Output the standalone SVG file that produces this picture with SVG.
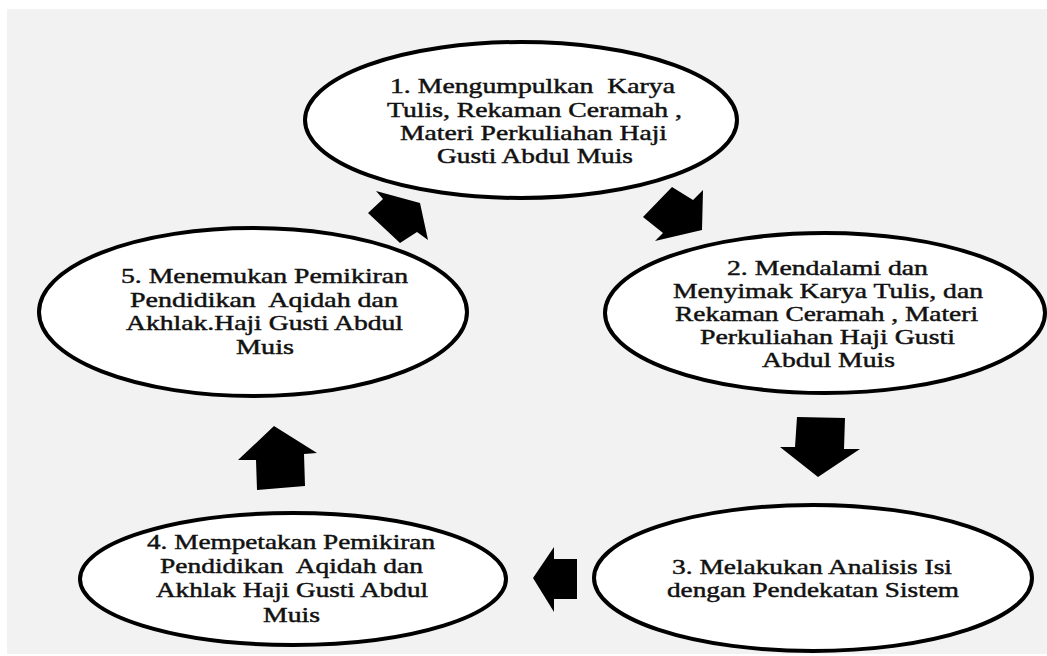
<svg xmlns="http://www.w3.org/2000/svg" width="1047" height="656" viewBox="0 0 1047 656">
<style>
.bg{fill:#f2f2f2}
.node ellipse{fill:#ffffff;stroke:#000000;stroke-width:4}
.node text{font-family:'Liberation Serif','DejaVu Serif',serif;font-size:21px;fill:#111111;stroke:#111111;stroke-width:0.45;white-space:pre}
.arrow{fill:#000000;stroke:none}
</style>
<rect class="bg" x="7" y="9" width="1040" height="645"/>
<g id="connectors">
<polygon class="arrow" points="376,191 420,203 428,240 417,232 400,243 368,213 383,199"/>
<polygon class="arrow" points="672,187 693,200 703,190 702,230 655,241 663,233 643,217"/>
<polygon class="arrow" points="797,417 845,418 844,449 860,449 818,477 780,447 795,447"/>
<polygon class="arrow" points="577,559 577,599 554,599 554,612 533,578 554,547 554,559"/>
<polygon class="arrow" points="274,426 317,453 304,454 305,486 257,490 256,460 238,460"/>
</g>
<g id="node1" class="node" font-family="Liberation Serif, DejaVu Serif, serif">
<ellipse cx="521" cy="120" rx="216" ry="78"/>
<text x="390" y="93" textLength="285" lengthAdjust="spacingAndGlyphs">1. Mengumpulkan  Karya</text>
<text x="387" y="117" textLength="295" lengthAdjust="spacingAndGlyphs">Tulis, Rekaman Ceramah ,</text>
<text x="400" y="139.5" textLength="267" lengthAdjust="spacingAndGlyphs">Materi Perkuliahan Haji</text>
<text x="437" y="163" textLength="196" lengthAdjust="spacingAndGlyphs">Gusti Abdul Muis</text>
</g>
<g id="node2" class="node" font-family="Liberation Serif, DejaVu Serif, serif">
<ellipse cx="825" cy="313" rx="220" ry="80"/>
<text x="727" y="275" textLength="201" lengthAdjust="spacingAndGlyphs">2. Mendalami dan</text>
<text x="673" y="298" textLength="310" lengthAdjust="spacingAndGlyphs">Menyimak Karya Tulis, dan</text>
<text x="675" y="321" textLength="303" lengthAdjust="spacingAndGlyphs">Rekaman Ceramah , Materi</text>
<text x="700" y="343.5" textLength="255" lengthAdjust="spacingAndGlyphs">Perkuliahan Haji Gusti</text>
<text x="762" y="367" textLength="133" lengthAdjust="spacingAndGlyphs">Abdul Muis</text>
</g>
<g id="node3" class="node" font-family="Liberation Serif, DejaVu Serif, serif">
<ellipse cx="813" cy="578" rx="219" ry="73"/>
<text x="672" y="574" textLength="280" lengthAdjust="spacingAndGlyphs">3. Melakukan Analisis Isi</text>
<text x="667" y="597" textLength="292" lengthAdjust="spacingAndGlyphs">dengan Pendekatan Sistem</text>
</g>
<g id="node4" class="node" font-family="Liberation Serif, DejaVu Serif, serif">
<ellipse cx="293" cy="579" rx="213" ry="66"/>
<text x="147" y="549" textLength="288" lengthAdjust="spacingAndGlyphs">4. Mempetakan Pemikiran</text>
<text x="160" y="573" textLength="263" lengthAdjust="spacingAndGlyphs">Pendidikan  Aqidah dan</text>
<text x="156" y="597" textLength="272" lengthAdjust="spacingAndGlyphs">Akhlak Haji Gusti Abdul</text>
<text x="263" y="622" textLength="57" lengthAdjust="spacingAndGlyphs">Muis</text>
</g>
<g id="node5" class="node" font-family="Liberation Serif, DejaVu Serif, serif">
<ellipse cx="253" cy="312" rx="214" ry="84"/>
<text x="121" y="283" textLength="287" lengthAdjust="spacingAndGlyphs">5. Menemukan Pemikiran</text>
<text x="130" y="307" textLength="268" lengthAdjust="spacingAndGlyphs">Pendidikan  Aqidah dan</text>
<text x="126" y="330" textLength="277" lengthAdjust="spacingAndGlyphs">Akhlak.Haji Gusti Abdul</text>
<text x="236" y="354" textLength="58" lengthAdjust="spacingAndGlyphs">Muis</text>
</g>
</svg>
